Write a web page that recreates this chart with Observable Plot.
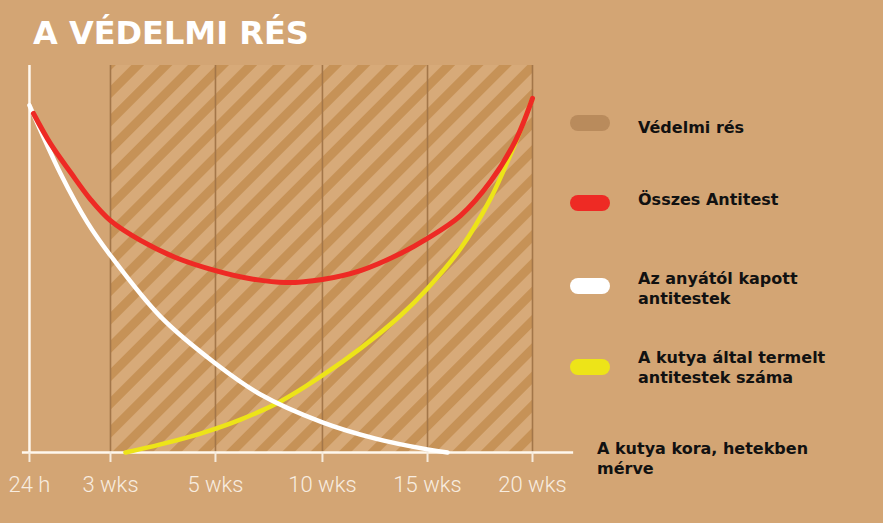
<!DOCTYPE html>
<html>
<head>
<meta charset="utf-8">
<script src="https://cdn.jsdelivr.net/npm/d3@7"></script>
<script src="https://cdn.jsdelivr.net/npm/@observablehq/plot@0.6"></script>
<style>
  html, body { margin: 0; padding: 0; }
  body { width: 883px; height: 523px; background: #D3A574; position: relative; overflow: hidden;
         font-family: "DejaVu Sans", Verdana, sans-serif; }
  #title { position: absolute; left: 33px; top: 17px; font-size: 32px; line-height: 32px; font-weight: bold; color: #FFFFFF; white-space: nowrap; }
  #chart { position: absolute; left: 0; top: 55px; }
  .lg { position: absolute; font-size: 16px; line-height: 20px; font-weight: bold; color: #111; white-space: nowrap; }
  .sw { position: absolute; width: 40px; height: 16px; border-radius: 8px; }
</style>
</head>
<body>
<div id="title">A VÉDELMI RÉS</div>
<div id="chart"></div>
<div id="legend"></div>
<script>
// x is measured in axis positions: 3 wks = 1, 5 wks = 2, 10 wks = 3, 15 wks = 4, 20 wks = 5
const xTickValues = [0.232, 1, 1.995, 3.009, 4.005, 5.0];
const xTickLabels = ["24 h", "3 wks", "5 wks", "10 wks", "15 wks", "20 wks"];
const gapStart = 1, gapEnd = 5;            // "Védelmi rés" band: 3 wks → 20 wks
const gridX = [1, 1.995, 3.009, 4.005, 5.0];

// Anyától kapott antitestek (white)
const maternalX = [0.232, 0.526, 0.782, 1.0, 1.474, 1.995, 2.422, 3.009, 3.512, 4.005, 4.195];
const maternalY = [89.7, 72.1, 59.4, 50.9, 35.1, 23.0, 15.0, 7.8, 3.6, 0.8, 0.0];

// Összes antitest (red)
const totalX = [0.270, 0.431, 0.621, 0.810, 1.0, 1.284, 1.616, 1.995, 2.327, 2.659, 3.009, 3.370, 3.749, 4.005, 4.318, 4.602, 4.839, 5.0];
const totalY = [87.6, 79.8, 72.4, 65.4, 59.9, 54.8, 50.4, 47.0, 44.9, 43.9, 44.7, 47.0, 51.4, 55.3, 61.2, 70.0, 80.6, 91.5];

// A kutya által termelt antitestek (yellow)
const puppyX = [1.142, 1.474, 1.853, 2.232, 2.611, 3.009, 3.370, 3.749, 4.005, 4.318, 4.602, 4.839, 5.0];
const puppyY = [0.0, 2.1, 4.9, 8.5, 13.2, 19.9, 26.9, 35.4, 42.4, 52.7, 65.6, 80.1, 91.5];

const legendLabels = ["Védelmi rés", "Összes Antitest", "Az anyától kapott\nantitestek", "A kutya által termelt\nantitestek száma"];
const legendColors = ["#B98B5C", "#EE2A24", "#FFFFFF", "#EDE418"];
const xAxisTitle = "A kutya kora, hetekben\nmérve";

const tickLabel = d => xTickLabels[xTickValues.indexOf(d)];

const chart = Plot.plot({
  width: 883,
  height: 468,
  marginTop: 10,
  marginBottom: 71,
  marginLeft: 20,
  marginRight: 303,
  style: {background: "none", overflow: "visible"},
  x: {domain: [0.147, 5.455], axis: null},
  y: {domain: [0, 100], axis: null},
  marks: [
    Plot.rect([0], {x1: gapStart, x2: gapEnd, y1: 0, y2: 100, fill: "url(#hatch)"}),
    Plot.ruleX(gridX, {y1: 0, y2: 100, stroke: "#A37649", strokeWidth: 1.6}),
    Plot.ruleX([xTickValues[0]], {y1: 0, y2: 100, stroke: "#FFF8EE", strokeWidth: 2.5}),
    Plot.ruleY([0], {x1: 0.165, x2: 5.39, stroke: "#FFF8EE", strokeWidth: 2.5}),
    Plot.axisX({
      ticks: xTickValues, tickFormat: tickLabel, tickSize: 10, tickPadding: 14,
      stroke: "#F6EBDD", strokeWidth: 2, fill: "#F8EDE0",
      fontSize: 22, fontFamily: "Roboto, 'DejaVu Sans', sans-serif", fontWeight: 300
    }),
    Plot.line(puppyX, {x: puppyX, y: puppyY, stroke: "#EDE418", strokeWidth: 4.5, curve: "catmull-rom"}),
    Plot.line(maternalX, {x: maternalX, y: maternalY, stroke: "#FFFFFF", strokeWidth: 4.5, curve: "catmull-rom"}),
    Plot.line(totalX, {x: totalX, y: totalY, stroke: "#EE2A24", strokeWidth: 5, curve: "catmull-rom"})
  ]
});

// hatch pattern for the protection-gap band
const svg = d3.select(chart);
const defs = svg.insert("defs", ":first-child");
const pat = defs.append("pattern")
  .attr("id", "hatch")
  .attr("patternUnits", "userSpaceOnUse")
  .attr("width", 20).attr("height", 20)
  .attr("patternTransform", "rotate(45)");
pat.append("rect").attr("width", 20).attr("height", 20).attr("fill", "#D7AA79");
pat.append("rect").attr("width", 9).attr("height", 20).attr("fill", "#C69257");

document.getElementById("chart").appendChild(chart);

// legend
const legend = document.getElementById("legend");
const swatchCenters = [123, 203, 286, 367];
const textTops = [118, 190, 269, 348];
legendLabels.forEach((lab, i) => {
  const sw = document.createElement("div");
  sw.className = "sw";
  sw.style.left = "570px";
  sw.style.top = (swatchCenters[i] - 8) + "px";
  sw.style.background = legendColors[i];
  legend.appendChild(sw);
  const t = document.createElement("div");
  t.className = "lg";
  t.style.left = "638px";
  t.style.top = textTops[i] + "px";
  t.innerHTML = lab.split("\n").join("<br>");
  legend.appendChild(t);
});
const xt = document.createElement("div");
xt.className = "lg";
xt.style.left = "597px";
xt.style.top = "439px";
xt.innerHTML = xAxisTitle.split("\n").join("<br>");
legend.appendChild(xt);
</script>
</body>
</html>
